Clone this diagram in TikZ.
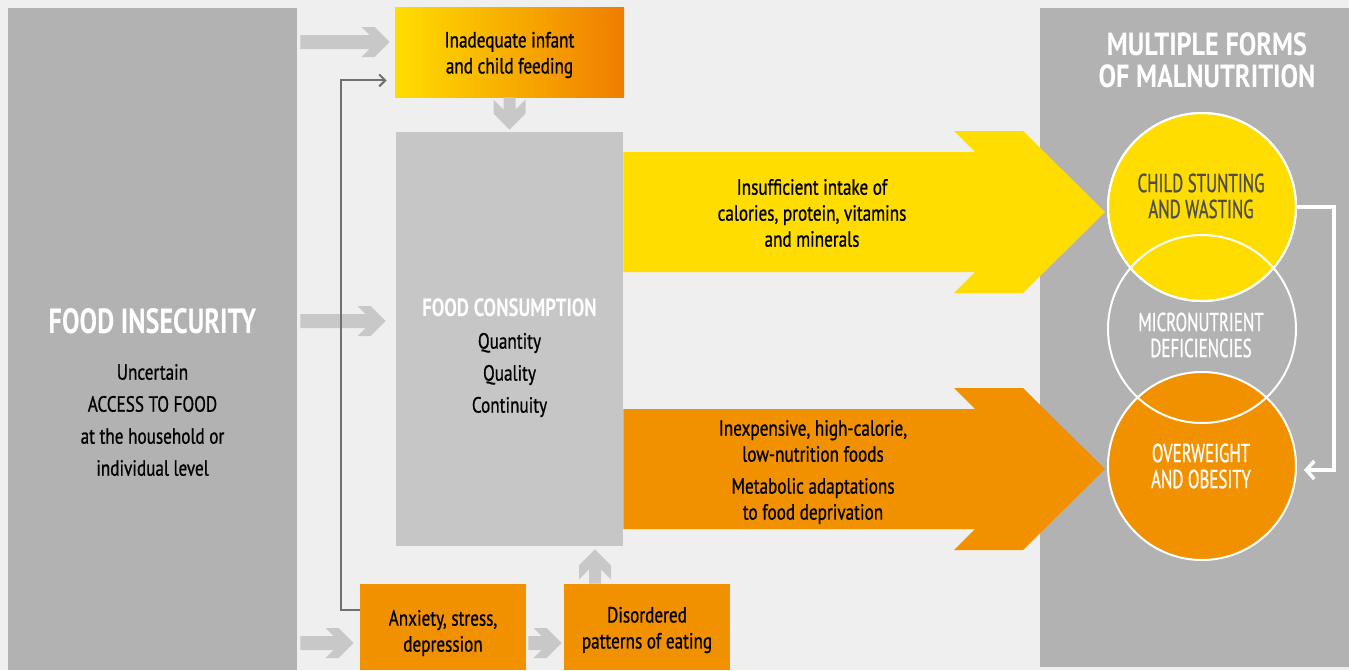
\documentclass[tikz,border=0pt]{standalone}
\usepackage{fontspec}
\setmainfont{PT Sans}[FakeStretch=0.78,UprightFeatures={FakeBold=0.8}]
\newfontfamily\headsans{PT Sans}[FakeStretch=0.75]
\newfontfamily\titlesans{PT Sans}[FakeStretch=0.82]
\newfontfamily\ringsans{PT Sans}[FakeStretch=0.65,UprightFeatures={FakeBold=0.8}]
\usetikzlibrary{arrows.meta,calc,positioning}
\definecolor{bgGray}{HTML}{EFEFEF}
\definecolor{panelGray}{HTML}{B2B2B2}
\definecolor{boxGray}{HTML}{C6C6C6}
\definecolor{arrowGray}{HTML}{C8C8C8}
\definecolor{lineGray}{HTML}{707070}
\definecolor{faoYellow}{HTML}{FFDD00}
\definecolor{faoOrange}{HTML}{F29100}
\definecolor{deepOrange}{HTML}{EF7D00}
\definecolor{darkText}{HTML}{4D4D4D}
\newcommand{\bodyfont}{\fontsize{11}{13}\selectfont}
\newcommand{\wideskip}{\fontsize{11}{16}\selectfont}
\newcommand{\headfont}{\headsans\fontsize{17.5}{20}\selectfont\bfseries}
\newcommand{\ringfont}{\ringsans\fontsize{13}{13}\selectfont}

\begin{document}
\begin{tikzpicture}[x=0.5pt,y=-0.5pt,
    panel/.style={fill=panelGray,draw=none,inner sep=0pt},
    box/.style={draw=none,inner sep=0pt},
    txt/.style={align=center,inner sep=0pt,font=\bodyfont},
    ring/.style={circle,draw=white,line width=1pt,minimum size=94pt,inner sep=0pt},
    % fat arrow pointing right: body half, head half, front depth, back depth
    rfat/.style n args={4}{to path={
        ([yshift=#1]\tikztostart) -- ([xshift={-(#4)+(#2)-(#1)},yshift=#1]\tikztotarget)
        -- ([xshift=-#4,yshift=#2]\tikztotarget) -- ([xshift=-#3,yshift=#2]\tikztotarget)
        -- (\tikztotarget)
        -- ([xshift=-#3,yshift=-#2]\tikztotarget) -- ([xshift=-#4,yshift=-#2]\tikztotarget)
        -- ([xshift={-(#4)+(#2)-(#1)},yshift=-#1]\tikztotarget) -- ([yshift=-#1]\tikztostart) -- cycle}},
    dfat/.style={to path={
        ([xshift=-3pt]\tikztostart) -- ([xshift=-3pt,yshift=10pt]\tikztotarget)
        -- ([xshift=-8pt,yshift=15pt]\tikztotarget) -- ([xshift=-8pt,yshift=8pt]\tikztotarget)
        -- (\tikztotarget)
        -- ([xshift=8pt,yshift=8pt]\tikztotarget) -- ([xshift=8pt,yshift=15pt]\tikztotarget)
        -- ([xshift=3pt,yshift=10pt]\tikztotarget) -- ([xshift=3pt]\tikztostart) -- cycle}},
    ufat/.style={to path={
        ([xshift=-3pt]\tikztostart) -- ([xshift=-3pt,yshift=-10pt]\tikztotarget)
        -- ([xshift=-8pt,yshift=-15pt]\tikztotarget) -- ([xshift=-8pt,yshift=-8pt]\tikztotarget)
        -- (\tikztotarget)
        -- ([xshift=8pt,yshift=-8pt]\tikztotarget) -- ([xshift=8pt,yshift=-15pt]\tikztotarget)
        -- ([xshift=3pt,yshift=-10pt]\tikztotarget) -- ([xshift=3pt]\tikztostart) -- cycle}},
    small/.style={rfat={3.5pt}{7.5pt}{7.5pt}{14pt}},
    big/.style={rfat={30pt}{40.5pt}{41pt}{75.5pt}},
    link/.style={draw=lineGray,line width=1pt,-{Straight Barb[length=3pt,width=6pt]}},
    loop/.style={draw=white,line width=1.75pt,-{Straight Barb[length=4pt,width=9pt]}}
  ]
  \fill[bgGray] (0,0) rectangle (1349,670);

  % panels and boxes
  \node[panel,minimum width=144.5pt,minimum height=331pt] (insec) at (152.5,339) {};
  \node[panel,minimum width=154.5pt,minimum height=329.5pt] (forms) at (1194.5,337.5) {};
  \node[box,fill=boxGray,minimum width=113.5pt,minimum height=207pt] (cons) at (509.5,339) {};
  \node[box,left color=faoYellow,right color=deepOrange,minimum width=114.5pt,minimum height=45pt] (infant) at (509.5,52) {};
  \node[box,fill=faoOrange,minimum width=83pt,minimum height=43pt] (anx) at (443,627) {};
  \node[box,fill=faoOrange,minimum width=83pt,minimum height=43pt] (eat) at (647,627) {};

  % malnutrition circles
  \node[ring,fill=faoYellow] (stunt) at (1202,207) {};
  \node[ring,fill=faoOrange] (obese) at (1202,466) {};
  \node[ring] (micro) at (1202,329) {};
  \draw[white,line width=1pt] (stunt) circle[radius=94];

  % rows for the grey arrows
  \coordinate (row1) at (0,42);
  \coordinate (row2) at (0,321);
  \coordinate (row3) at (0,643);
  \coordinate (upx) at (595,0);
  \coordinate (ytip) at (1105,212);
  \coordinate (otip) at (1105,469);

  \fill[arrowGray] ([xshift=1.5pt]insec.east |- row1) to[small] ([xshift=-2.5pt]infant.west |- row1);
  \fill[arrowGray] ([xshift=1.5pt]insec.east |- row2) to[small] ([xshift=-5pt]cons.west |- row2);
  \fill[arrowGray] ([xshift=1.5pt]insec.east |- row3) to[small] ([xshift=-3pt]anx.west |- row3);
  \fill[arrowGray] ([xshift=1pt]anx.east |- row3) to[small] ([xshift=-1pt]eat.west |- row3);
  \fill[arrowGray] (infant.south) to[dfat] ([yshift=1pt]cons.north);
  \fill[arrowGray] (eat.north -| upx) to[ufat] ([yshift=-1.5pt]cons.south -| upx);

  \draw[link] ([yshift=-13pt]anx.north west) -- ++(-19,0) |- ([xshift=-4pt,yshift=8.5pt]infant.south west);
  \draw[loop] (stunt.east) -- ++(37,0) |- ([xshift=3.5pt,yshift=-2pt]obese.east);

  % big arrows
  \fill[faoYellow] (cons.east |- ytip) to[big] (ytip);
  \fill[faoOrange] (cons.east |- otip) to[big] (otip);

  % texts
  \node[txt,font=\headfont,text=white] (insechead) at (152.5,321) {FOOD INSECURITY};
  \node[txt,font=\wideskip] (insectext) at (152.5,420) {Uncertain\\ACCESS TO FOOD\\at the household or\\individual level};
  \node[txt] (infanttext) at (509.5,55) {Inadequate infant\\and child feeding};
  \node[txt,font=\headsans\fontsize{12.5}{16}\selectfont\bfseries,text=white] (conshead) at (509.5,308) {FOOD CONSUMPTION};
  \node[txt,font=\wideskip] (constext) at (509.5,375) {Quantity\\Quality\\Continuity};
  \node[txt] (anxtext) at (443,633) {Anxiety, stress,\\depression};
  \node[txt] (eattext) at (647,630) {Disordered\\patterns of eating};
  \node[txt] (lowtext) at (812,213) {Insufficient intake of\\calories, protein, vitamins\\and minerals};
  \node[txt] (hightext) at (813,441) {Inexpensive, high-calorie,\\low-nutrition foods};
  \node[txt] (metatext) at (813,501) {Metabolic adaptations\\to food deprivation};
  \node[txt,font=\titlesans\fontsize{16}{16}\selectfont\bfseries,text=white] (formshead) at (1207,60) {MULTIPLE FORMS\\OF MALNUTRITION};
  \node[txt,font=\ringfont,text=darkText] (stunttext) at (1201,196) {CHILD STUNTING\\AND WASTING};
  \node[txt,font=\ringfont,text=white] (microtext) at (1201,335) {MICRONUTRIENT\\DEFICIENCIES};
  \node[txt,font=\ringfont,text=white] (obesetext) at (1201,466) {OVERWEIGHT\\AND OBESITY};
\end{tikzpicture}
\end{document}
